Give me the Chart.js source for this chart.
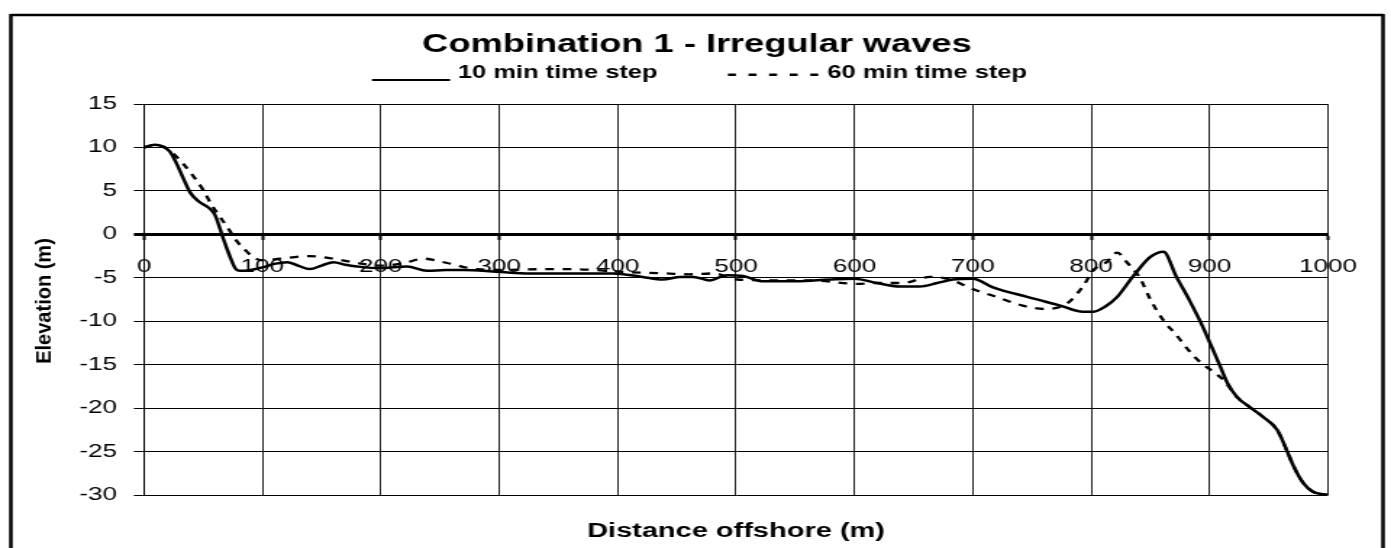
<!DOCTYPE html>
<html><head><meta charset="utf-8">
<script src="https://cdn.jsdelivr.net/npm/chart.js@4"></script>
<style>
html,body{margin:0;padding:0;background:#fff;overflow:hidden;}
#wrap{width:960px;height:548px;transform:scaleX(1.44896);transform-origin:0 0;}
canvas{display:block;}
</style></head><body>
<div id="wrap"><canvas id="c" width="960" height="548"></canvas></div>
<script>
const chartTitle = 'Combination 1 - Irregular waves';
const seriesNames = ['10 min time step', '60 min time step'];
const xAxisTitle = 'Distance offshore (m)';
const yAxisTitle = 'Elevation (m)';
const xRange = [0, 1000, 100];
const yRange = [-30, 15, 5];

const dist10 = [0, 9, 16, 22, 28, 33, 39, 46, 56, 60, 64, 68, 73, 77, 81, 90, 100, 110, 121, 130, 140, 150, 160, 170, 180, 199, 222, 239, 255, 270, 298, 326, 360, 396, 421, 438, 453, 464, 478, 492, 506, 523, 551, 579, 600, 619, 638, 655, 670, 683, 700, 717, 746, 774, 793, 802, 812, 822, 835, 850, 861, 872, 883, 892, 900, 909, 915, 923, 934, 945, 957, 965, 971, 979, 987, 1000];
const elev10 = [10.0, 10.3, 10.1, 9.5, 8.0, 6.5, 4.8, 3.8, 2.9, 2.2, 0.7, -0.9, -2.7, -3.9, -4.2, -4.1, -3.8, -3.4, -3.2, -3.6, -4.0, -3.6, -3.2, -3.5, -3.7, -3.9, -3.7, -4.2, -4.1, -4.1, -4.3, -4.5, -4.5, -4.5, -4.9, -5.2, -4.9, -4.9, -5.3, -4.7, -4.8, -5.4, -5.4, -5.2, -5.1, -5.6, -6.0, -6.0, -5.6, -5.2, -5.1, -6.1, -7.2, -8.2, -8.9, -8.9, -8.3, -7.2, -4.9, -2.6, -2.0, -4.9, -7.6, -10.0, -12.4, -15.2, -17.1, -18.7, -19.9, -21.0, -22.5, -24.8, -26.7, -28.6, -29.6, -30.0];

const dist60 = [0, 9, 16, 22, 27, 32, 41, 50, 57, 62, 70, 79, 84, 92, 100, 115, 140, 160, 180, 200, 220, 236, 256, 280, 300, 343, 360, 380, 400, 441, 460, 481, 501, 535, 563, 602, 619, 641, 664, 681, 700, 720, 742, 762, 775, 782, 793, 802, 813, 822, 830, 841, 850, 861, 872, 882, 892, 903, 912, 923, 934, 945, 957, 965, 971, 979, 987, 1000];
const elev60 = [10.0, 10.3, 10.1, 9.6, 9.0, 8.3, 6.8, 5.1, 3.4, 2.4, 0.9, -0.9, -1.6, -2.6, -3.0, -2.8, -2.5, -2.8, -3.3, -3.6, -3.3, -2.8, -3.3, -4.0, -4.1, -4.0, -4.0, -4.1, -4.3, -4.5, -4.6, -4.5, -5.2, -5.3, -5.3, -5.7, -5.6, -5.6, -4.9, -5.2, -6.3, -7.2, -8.2, -8.6, -8.3, -7.7, -6.0, -4.1, -3.2, -2.1, -3.2, -5.0, -7.5, -9.9, -11.6, -13.3, -14.7, -15.8, -16.8, -18.7, -19.9, -21.0, -22.5, -24.8, -26.7, -28.6, -29.6, -30.0];

const FONT = '"Liberation Sans", Arial, sans-serif';

const decor = {
  id: 'decor',
  afterDraw(chart) {
    const ctx = chart.ctx, a = chart.chartArea;
    ctx.save();
    ctx.strokeStyle = '#000'; ctx.fillStyle = '#000';
    ctx.lineWidth = 2.5;
    ctx.beginPath();
    ctx.moveTo(7.5, 15); ctx.lineTo(954.5, 15);
    ctx.moveTo(7.5, 14); ctx.lineTo(7.5, 560);
    ctx.moveTo(954.5, 14); ctx.lineTo(954.5, 560);
    ctx.stroke();
    ctx.textAlign = 'center'; ctx.textBaseline = 'middle';
    ctx.font = 'bold 25px ' + FONT;
    ctx.fillText(chartTitle, 481, 45);
    ctx.font = 'bold 17.6px ' + FONT; ctx.textAlign = 'left';
    ctx.lineWidth = 2;
    ctx.beginPath(); ctx.moveTo(256.7, 80); ctx.lineTo(310.6, 80); ctx.stroke();
    ctx.fillText(seriesNames[0], 316, 73);
    for (let i = 0; i < 5; i++) ctx.fillRect(502.4 + i * 14.2, 73.5, 5.5, 2.5);
    ctx.fillText(seriesNames[1], 571, 73);
    ctx.textAlign = 'center'; ctx.font = 'bold 20px ' + FONT;
    ctx.fillText(xAxisTitle, (a.left + a.right) / 2, 531);
    ctx.translate(31, 301); ctx.rotate(-Math.PI / 2); ctx.scale(1, 0.77);
    ctx.fillText(yAxisTitle, 0, 0);
    ctx.restore();
  }
};

new Chart(document.getElementById('c'), {
  type: 'line',
  data: {
    datasets: [
      { label: seriesNames[0], data: dist10.map((x, i) => ({ x, y: elev10[i] })), borderColor: '#000', borderWidth: 2.5, pointRadius: 0, cubicInterpolationMode: 'monotone', fill: false },
      { label: seriesNames[1], data: dist60.map((x, i) => ({ x, y: elev60[i] })), borderColor: '#000', borderWidth: 2.3, borderDash: [6, 6], pointRadius: 0, cubicInterpolationMode: 'monotone', fill: false }
    ]
  },
  options: {
    responsive: false, animation: false, devicePixelRatio: 1,
    layout: { padding: { left: 0, right: 43.5, top: 104, bottom: 53 } },
    plugins: { legend: { display: false }, title: { display: false }, tooltip: { enabled: false } },
    scales: {
      x: {
        type: 'linear', position: { y: 0 }, min: xRange[0], max: xRange[1],
        ticks: { stepSize: xRange[2], color: '#000', font: { family: FONT, size: 18 }, padding: 17.5, maxRotation: 0, autoSkip: false, callback: v => String(v) },
        grid: { color: '#222', lineWidth: 1, drawTicks: true, tickLength: 4, tickColor: '#000', tickWidth: 2 },
        border: { display: true, color: '#000', width: 3 }
      },
      y: {
        type: 'linear', position: 'left', min: yRange[0], max: yRange[1],
        ticks: { stepSize: yRange[2], color: '#000', font: { family: FONT, size: 18 }, padding: 11.7, callback: v => String(v) },
        grid: { color: '#000', lineWidth: c => (c.tick && c.tick.value === 0 ? 3 : 1), tickLength: 7 },
        border: { color: '#000', width: 1 },
        afterFit(s) { s.width = 99.4; }
      }
    }
  },
  plugins: [decor]
});
</script>
</body></html>
